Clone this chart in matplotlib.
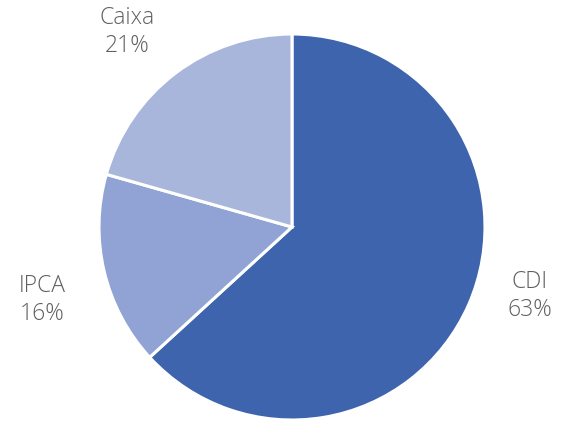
import matplotlib.pyplot as plt

categories = ["CDI", "IPCA", "Caixa"]
shares = [63.2, 16.2, 20.6]
colors = ["#3D64AD", "#91A3D4", "#A9B6DB"]

fig = plt.figure(figsize=(5.65, 4.23), dpi=100)
ax = fig.add_axes([0.5168 - 0.3416, 0.4634 - 0.4563, 0.6832, 0.9125])

wedges, texts = ax.pie(
    shares,
    labels=[f"{c}\n{round(s)}%" for c, s in zip(categories, shares)],
    colors=colors,
    startangle=90,
    counterclock=False,
    wedgeprops=dict(edgecolor="white", linewidth=2.2),
    textprops=dict(color="#5f5f5f", fontsize=16.5, family="Open Sans",
                   fontweight="light", ha="center", va="center",
                   linespacing=1.2),
)

# label placement (outside, Excel style)
label_pos = [(1.233, -0.357), (-1.295, -0.378), (-0.855, 1.01)]
for t, p in zip(texts, label_pos):
    t.set_position(p)
    t.set_ha("center")
    t.set_va("center")

ax.set_xlim(-1, 1)
ax.set_ylim(-1, 1)
ax.set_aspect("equal")

fig.savefig("out.png", dpi=100)
